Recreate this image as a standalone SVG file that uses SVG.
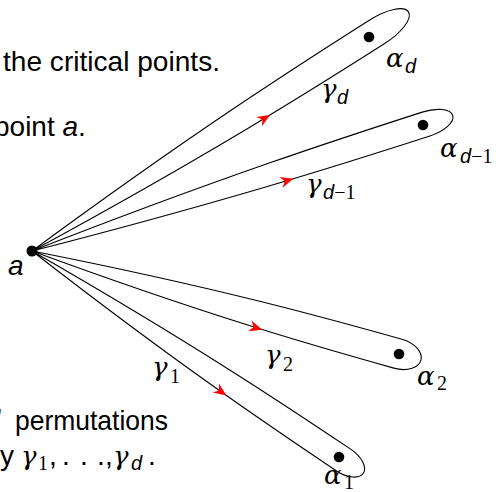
<svg xmlns="http://www.w3.org/2000/svg" width="502" height="492" viewBox="0 0 502 492">
<defs>
<style>
.loop{fill:none;stroke:#000;stroke-width:1.1;stroke-linejoin:round}
.dot{fill:#000}
.arr{fill:#ff0000;stroke:none}
.tx{font-family:"Liberation Sans",Arial,sans-serif;font-size:28px;fill:#000}
.it{font-family:"Liberation Sans",Arial,sans-serif;font-style:italic}
.gk{font-family:"DejaVu Serif","Liberation Serif",serif;font-style:italic;font-size:26px;fill:#000}
.si{font-family:"Liberation Sans",Arial,sans-serif;font-style:italic;font-size:20px}
.sr{font-family:"Liberation Serif","Times New Roman",serif;font-style:normal;font-size:20px}
</style>
<path id="arrow" class="arr" d="M0,0 L-13,-5.5 L-9,0 L-13,5.5 Z"/>
</defs>
<rect width="502" height="492" fill="#fff"/>

<g id="text">
<text class="tx" x="3" y="71" textLength="217" lengthAdjust="spacingAndGlyphs">the critical points.</text>
<text class="tx" x="-6" y="136">point <tspan class="it">a</tspan>.</text>
<text class="tx" x="-4" y="428">’</text>
<text class="tx" x="15" y="430" textLength="153" lengthAdjust="spacingAndGlyphs">permutations</text>
<text class="tx" x="0" y="465">y</text>
<text class="gk" x="21" y="465">γ</text><text class="sr" x="38" y="470">1</text>
<text class="tx" x="49" y="465">,</text>
<text class="tx" x="62" y="465">.</text>
<text class="tx" x="80" y="465">.</text>
<text class="tx" x="97" y="465">.</text>
<text class="tx" x="105" y="465">,</text>
<text class="gk" x="113" y="465">γ</text><text class="si" x="131" y="470">d</text>
<text class="tx" x="148" y="465">.</text>
</g>

<g id="connectors">
<g id="loop-d" transform="translate(32,251) rotate(-32.42)">
<path class="loop" d="M0,0 C204,14 326,14 408,14 A38,14 0 0 0 408,-14 C326,-14 204,-14 0,0 Z"/>
<use href="#arrow" transform="translate(274,12.8) rotate(1.2)"/>
</g>
<g id="loop-d1" transform="translate(32,251) rotate(-17.86)">
<path class="loop" d="M0,0 C207,12.5 331,12.5 414,12.5 A28,12.5 0 0 0 414,-12.5 C331,-12.5 207,-12.5 0,0 Z"/>
<use href="#arrow" transform="translate(271,11.3) rotate(1.1)"/>
</g>
<g id="loop-2" transform="translate(32,251) rotate(15.68)">
<path class="loop" d="M0,0 C190,15 304,15 380,15 A24,15 0 0 0 380,-15 C304,-15 190,-15 0,0 Z"/>
<use href="#arrow" transform="translate(243,13.5) rotate(1.3)"/>
</g>
<g id="loop-1" transform="translate(32,251) rotate(33.86)">
<path class="loop" d="M0,0 C187,13 300,13 375,13 A24,13 0 0 0 375,-13 C300,-13 187,-13 0,0 Z"/>
<use href="#arrow" transform="translate(242,11.7) rotate(1.2)"/>
</g>
<g id="labels-gamma">
<text class="gk" x="321" y="98">γ</text><text class="si" x="337" y="104">d</text>
<text class="gk" x="306" y="193">γ</text><text class="si" x="323" y="199">d<tspan class="sr">−1</tspan></text>
<text class="gk" x="265" y="364">γ</text><text class="sr" x="283" y="371">2</text>
<text class="gk" x="152" y="376">γ</text><text class="sr" x="170" y="383">1</text>
</g>
</g>

<g id="node-a">
<circle class="dot" cx="32" cy="251" r="5.5"/>
<text class="tx it" x="8" y="275">a</text>
</g>
<g id="node-alpha-d">
<circle class="dot" cx="369" cy="37" r="5.3"/>
<text class="gk" x="386" y="67">α</text><text class="si" x="405" y="73">d</text>
</g>
<g id="node-alpha-d1">
<circle class="dot" cx="423" cy="125" r="5.3"/>
<text class="gk" x="440" y="157">α</text><text class="si" x="460" y="163">d<tspan class="sr">−1</tspan></text>
</g>
<g id="node-alpha-2">
<circle class="dot" cx="399" cy="354" r="5.3"/>
<text class="gk" x="417" y="385">α</text><text class="sr" x="437" y="390">2</text>
</g>
<g id="node-alpha-1">
<circle class="dot" cx="339" cy="457" r="5.3"/>
<text class="gk" x="324" y="484">α</text><text class="sr" x="344" y="489">1</text>
</g>
</svg>
